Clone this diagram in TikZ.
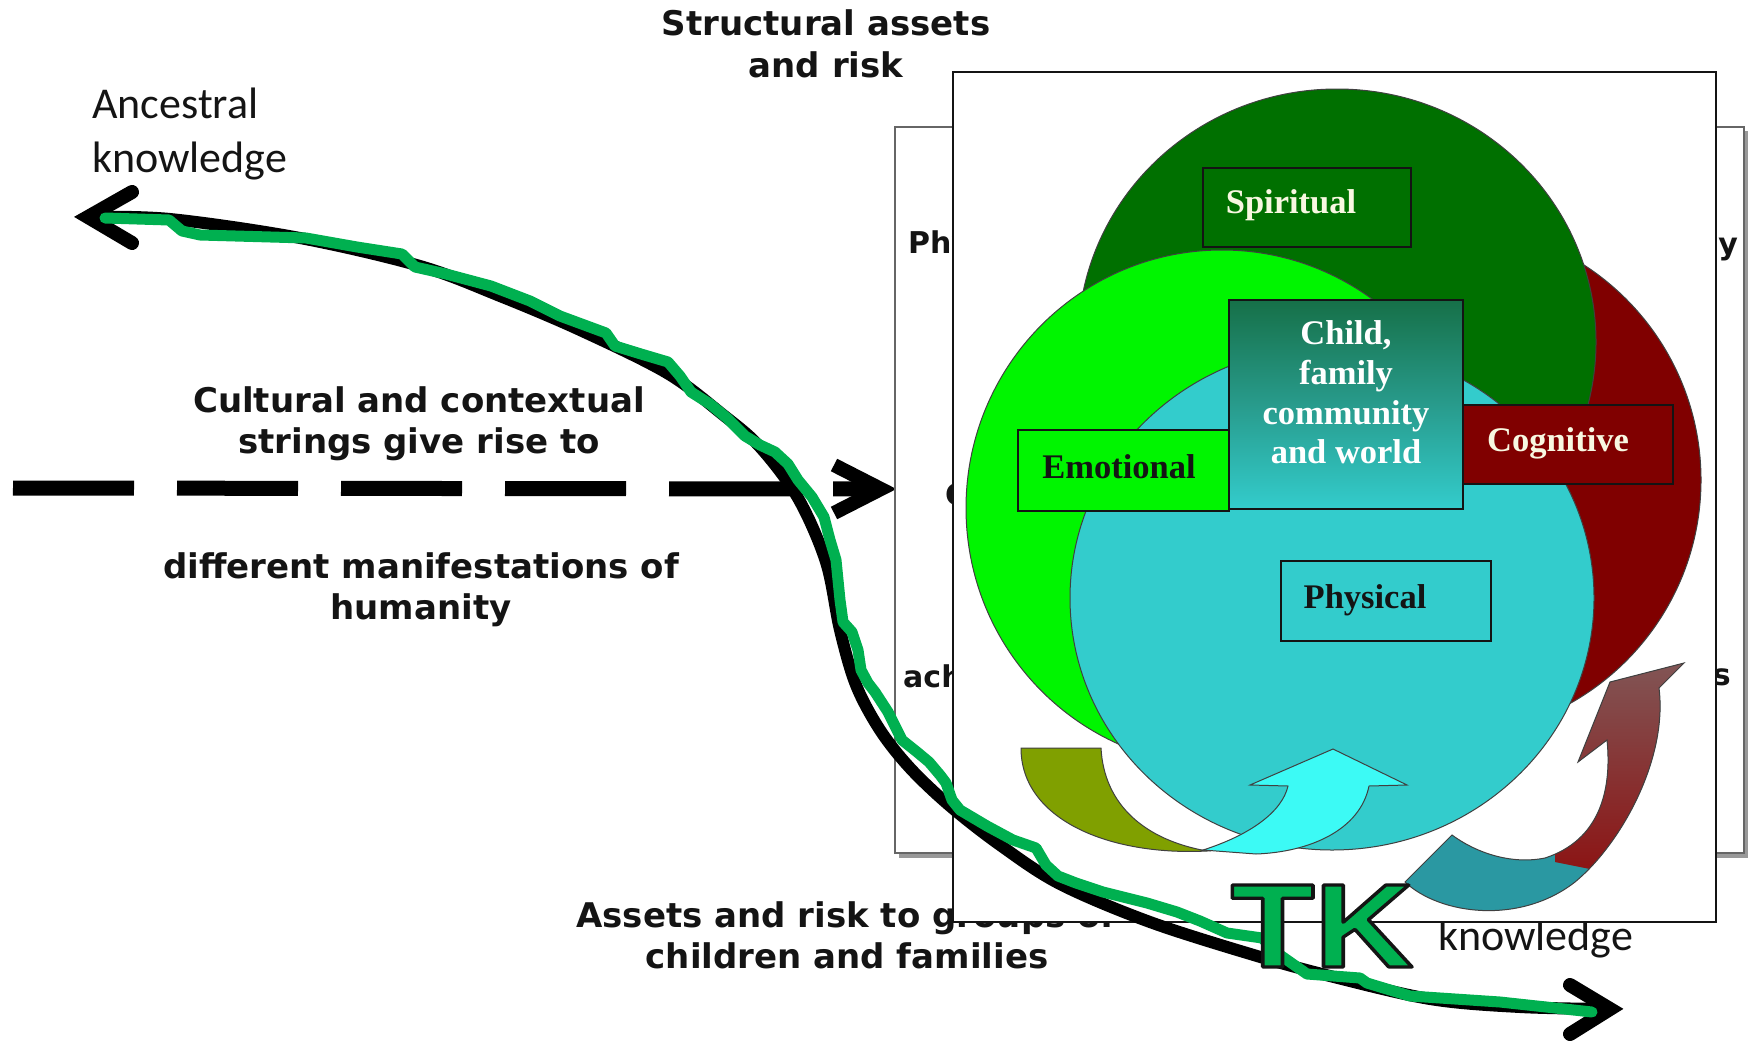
\documentclass[tikz,border=0pt]{standalone}
\usepackage{fontspec}
\usepackage{graphicx}
\usetikzlibrary{fit}
\newfontfamily\verdfont{DejaVu Sans}
\newfontfamily\calfont{Carlito}
\newfontfamily\serfont{Liberation Serif}
\newfontfamily\arifont{Liberation Sans}

\definecolor{spirit}{RGB}{0,112,0}
\definecolor{emot}{RGB}{0,245,0}
\definecolor{cogn}{RGB}{128,0,0}
\definecolor{phys}{RGB}{51,204,204}
\definecolor{childtop}{RGB}{22,112,72}
\definecolor{childmid}{RGB}{40,155,140}
\definecolor{oliveband}{RGB}{128,160,0}
\definecolor{lightcy}{RGB}{60,250,245}
\definecolor{tealarr}{RGB}{42,152,162}
\definecolor{mauve}{RGB}{128,92,92}
\definecolor{darkr}{RGB}{140,20,20}
\definecolor{tkgreen}{RGB}{0,176,80}
\definecolor{cream}{RGB}{248,248,225}
\definecolor{ink}{RGB}{20,20,20}

% filled glyphs with a dark stroked outline (PDF text render mode 2)
\newcommand{\strokedtext}[1]{%
  \special{pdf:literal direct 0.08 0.08 0.08 RG 3.2 w 1 j 2 Tr}#1\special{pdf:literal direct 0 Tr}}

\begin{document}
\begin{tikzpicture}[x=1pt, y=-1pt,
  caption/.style={font=\verdfont\bfseries\fontsize{34}{42}\selectfont, text=ink, inner sep=0, anchor=base},
  hand/.style={font=\calfont\fontsize{44}{54}\selectfont, text=ink, inner sep=0, anchor=base west},
  hidden/.style={font=\verdfont\bfseries\fontsize{30}{36}\selectfont, text=ink, inner sep=0},
  facet/.style={font=\serfont\bfseries\fontsize{34.5}{40}\selectfont, inner sep=0, anchor=base},
  panel/.style={inner sep=0, draw=ink, line width=1.5pt},
  blob/.style={draw=black!75, line width=1pt},
  fat/.style={line width=12pt, black, line cap=round, line join=round},
  chevron/.style={line width=14pt, black, line cap=round, line join=miter, miter limit=20},
  marker/.style={line width=11pt, tkgreen, line cap=round, line join=round},
  tkst/.style={font=\arifont\bfseries\fontsize{119}{119}\selectfont, inner sep=0, text=tkgreen}
]
\useasboundingbox (0,0) rectangle (1748,1052);

% ---- captions around the panels
\node[caption] (sa1) at (826,35) {Structural assets};
\node[caption] (sa2) at (826,77) {and risk};
\node[hand] (anc1) at (92,118) {Ancestral};
\node[hand] (anc2) at (92,172) {knowledge};
\node[caption] (cu1) at (419,412) {Cultural and contextual};
\node[caption] (cu2) at (419,453) {strings give rise to};
\node[caption] (dm1) at (421,578) {different manifestations of};
\node[caption] (dm2) at (421,619) {humanity};
\node[caption] (ar1) at (846,927) {Assets and risk to groups of};
\node[caption] (ar2) at (847,968) {children and families};
\node[hand] (kn) at (1438,950) {knowledge};

% ---- dashed arrow towards the panels
\coordinate (dstart) at (13,488);
\coordinate (dtip) at (881,489);
\draw[line width=15pt, dash pattern=on 121pt off 43pt] (dstart) -- (dtip);
\draw[chevron, line cap=butt] (834,465) -- (dtip) -- (834,513);

% ---- back panel with shadow
\fill[black!40] (899,131) rectangle (1748,858);
\node[panel, fit={(895,127) (1744,853)}, draw=black!60, fill=white] (back) {};
\node[hidden, anchor=base west] (h1) at (908,253) {Phy};
\node[hidden, anchor=base west] (h2) at (945,505) {C};
\node[hidden, anchor=base west] (h3) at (903,687) {ach};
\node[hidden, anchor=base east] (h4) at (1738,254) {y};
\node[hidden, anchor=base east] (h5) at (1731,685) {s};

% ---- front panel
\node[panel, fit={(953,72) (1716,922)}, fill=white] (front) {};

% ---- overlapping domains
\draw[blob, fill=cogn] (1445,480) ellipse [x radius=256pt, y radius=256pt];
\draw[blob, fill=spirit] (1337,342) ellipse [x radius=259pt, y radius=253pt];
\draw[blob, fill=emot] (1222,508) ellipse [x radius=256pt, y radius=258pt];
\draw[blob, fill=phys] (1332,598) ellipse [x radius=262pt, y radius=252pt];

% ---- labelled boxes
\node[panel, fit={(1203,168) (1411,247)}, fill=spirit] (spbox) {};
\node[facet, text=cream] (splab) at (1291,213) {Spiritual};
\node[panel, fit={(1229,300) (1463,509)}, top color=childtop, bottom color=phys, middle color=childmid] (chbox) {};
\node[facet, text=white] (ch1) at (1346,344) {Child,};
\node[facet, text=white] (ch2) at (1346,384) {family};
\node[facet, text=white] (ch3) at (1346,424) {community};
\node[facet, text=white] (ch4) at (1346,463) {and world};
\node[panel, fit={(1018,430) (1229,511)}, fill=emot] (embox) {};
\node[facet, text=ink] (emlab) at (1119,478) {Emotional};
\node[panel, fit={(1463,405) (1673,484)}, fill=cogn] (cobox) {};
\node[facet, text=cream] (colab) at (1558,451) {Cognitive};
\node[panel, fit={(1281,561) (1491,641)}, fill=phys] (phbox) {};
\node[facet, text=ink] (phlab) at (1365,608) {Physical};

% ---- curved band and arrows at the bottom
\draw[blob, fill=oliveband] (1021,748) -- (1101,748)
  .. controls (1104,805) and (1145,840) .. (1207,851)
  .. controls (1110,856) and (1021,820) .. cycle;
\draw[blob, fill=lightcy] (1203,850) .. controls (1250,835) and (1282,812) .. (1288,786)
  -- (1250,785) -- (1333,749) -- (1407,785) -- (1369,786)
  .. controls (1360,830) and (1310,852) .. (1256,854) -- cycle;
\begin{scope}
  \clip (1684,663) -- (1610,682) -- (1578,762) -- (1607,740)
    .. controls (1612,790) and (1600,840) .. (1545,858)
    .. controls (1510,865) and (1475,852) .. (1452,835) -- (1405,882)
    .. controls (1440,915) and (1520,925) .. (1575,882)
    .. controls (1620,845) and (1668,760) .. (1659,688) -- cycle;
  \fill[tealarr] (1380,640) rectangle (1720,940);
  \shade[top color=mauve, bottom color=darkr] (1555,640) -- (1720,640) -- (1720,800) -- (1605,872) -- (1555,862) -- cycle;
\end{scope}
\draw[blob] (1684,663) -- (1610,682) -- (1578,762) -- (1607,740)
    .. controls (1612,790) and (1600,840) .. (1545,858)
    .. controls (1510,865) and (1475,852) .. (1452,835) -- (1405,882)
    .. controls (1440,915) and (1520,925) .. (1575,882)
    .. controls (1620,845) and (1668,760) .. (1659,688) -- cycle;

% ---- the long black curve with its two heads
\coordinate (ancient) at (88,217);
\coordinate (future) at (1610,1009);
\draw[fat] plot[smooth, tension=0.55] coordinates {(ancient) (170,219) (300,238) (420,266) (500,296) (580,330) (667,373) (722,414) (760,447) (798,498) (826,562) (840,630) (856,685) (880,730) (910,768) (950,806) (1000,845) (1060,884) (1150,922) (1257,956) (1330,976) (1430,999) (1520,1007) (future)};
\draw[chevron] (132,192) -- (ancient) -- (132,243);
\draw[chevron] (1570,985) -- (future) -- (1570,1034);

% ---- green marker line traced over it
\draw[marker] (105,218) -- (169,220) -- (182,231) -- (200,235) -- (306,238) -- (357,247) -- (402,254) -- (415,267) -- (446,274) -- (491,286) -- (530,301) -- (560,316) -- (606,333) -- (615,346) -- (641,354) -- (668,362) -- (680,376) -- (691,392) -- (710,404) -- (727,418) -- (745,436) -- (760,445) -- (775,452) -- (788,464) -- (798,480) -- (812,497) -- (824,517) -- (830,540) -- (836,560) -- (840,600) -- (843,622) -- (852,632) -- (858,650) -- (861,670) -- (868,683) -- (875,692) -- (888,712) -- (902,740) -- (917,752) -- (929,762) -- (940,775) -- (946,783) -- (952,800) -- (960,810) -- (987,826) -- (1013,840) -- (1036,848) -- (1046,865) -- (1058,876) -- (1076,883) -- (1103,892) -- (1147,903) -- (1177,912) -- (1200,921) -- (1227,933) -- (1262,938) -- (1280,955) -- (1307,974) -- (1360,978) -- (1367,983) -- (1410,996) -- (1500,1002) -- (1592,1012);

% ---- TK lettering with dark outline
\node[tkst] (tk) at (1322,926) {\scalebox{1.15}[1]{\strokedtext{TK}}};
\end{tikzpicture}
\end{document}
